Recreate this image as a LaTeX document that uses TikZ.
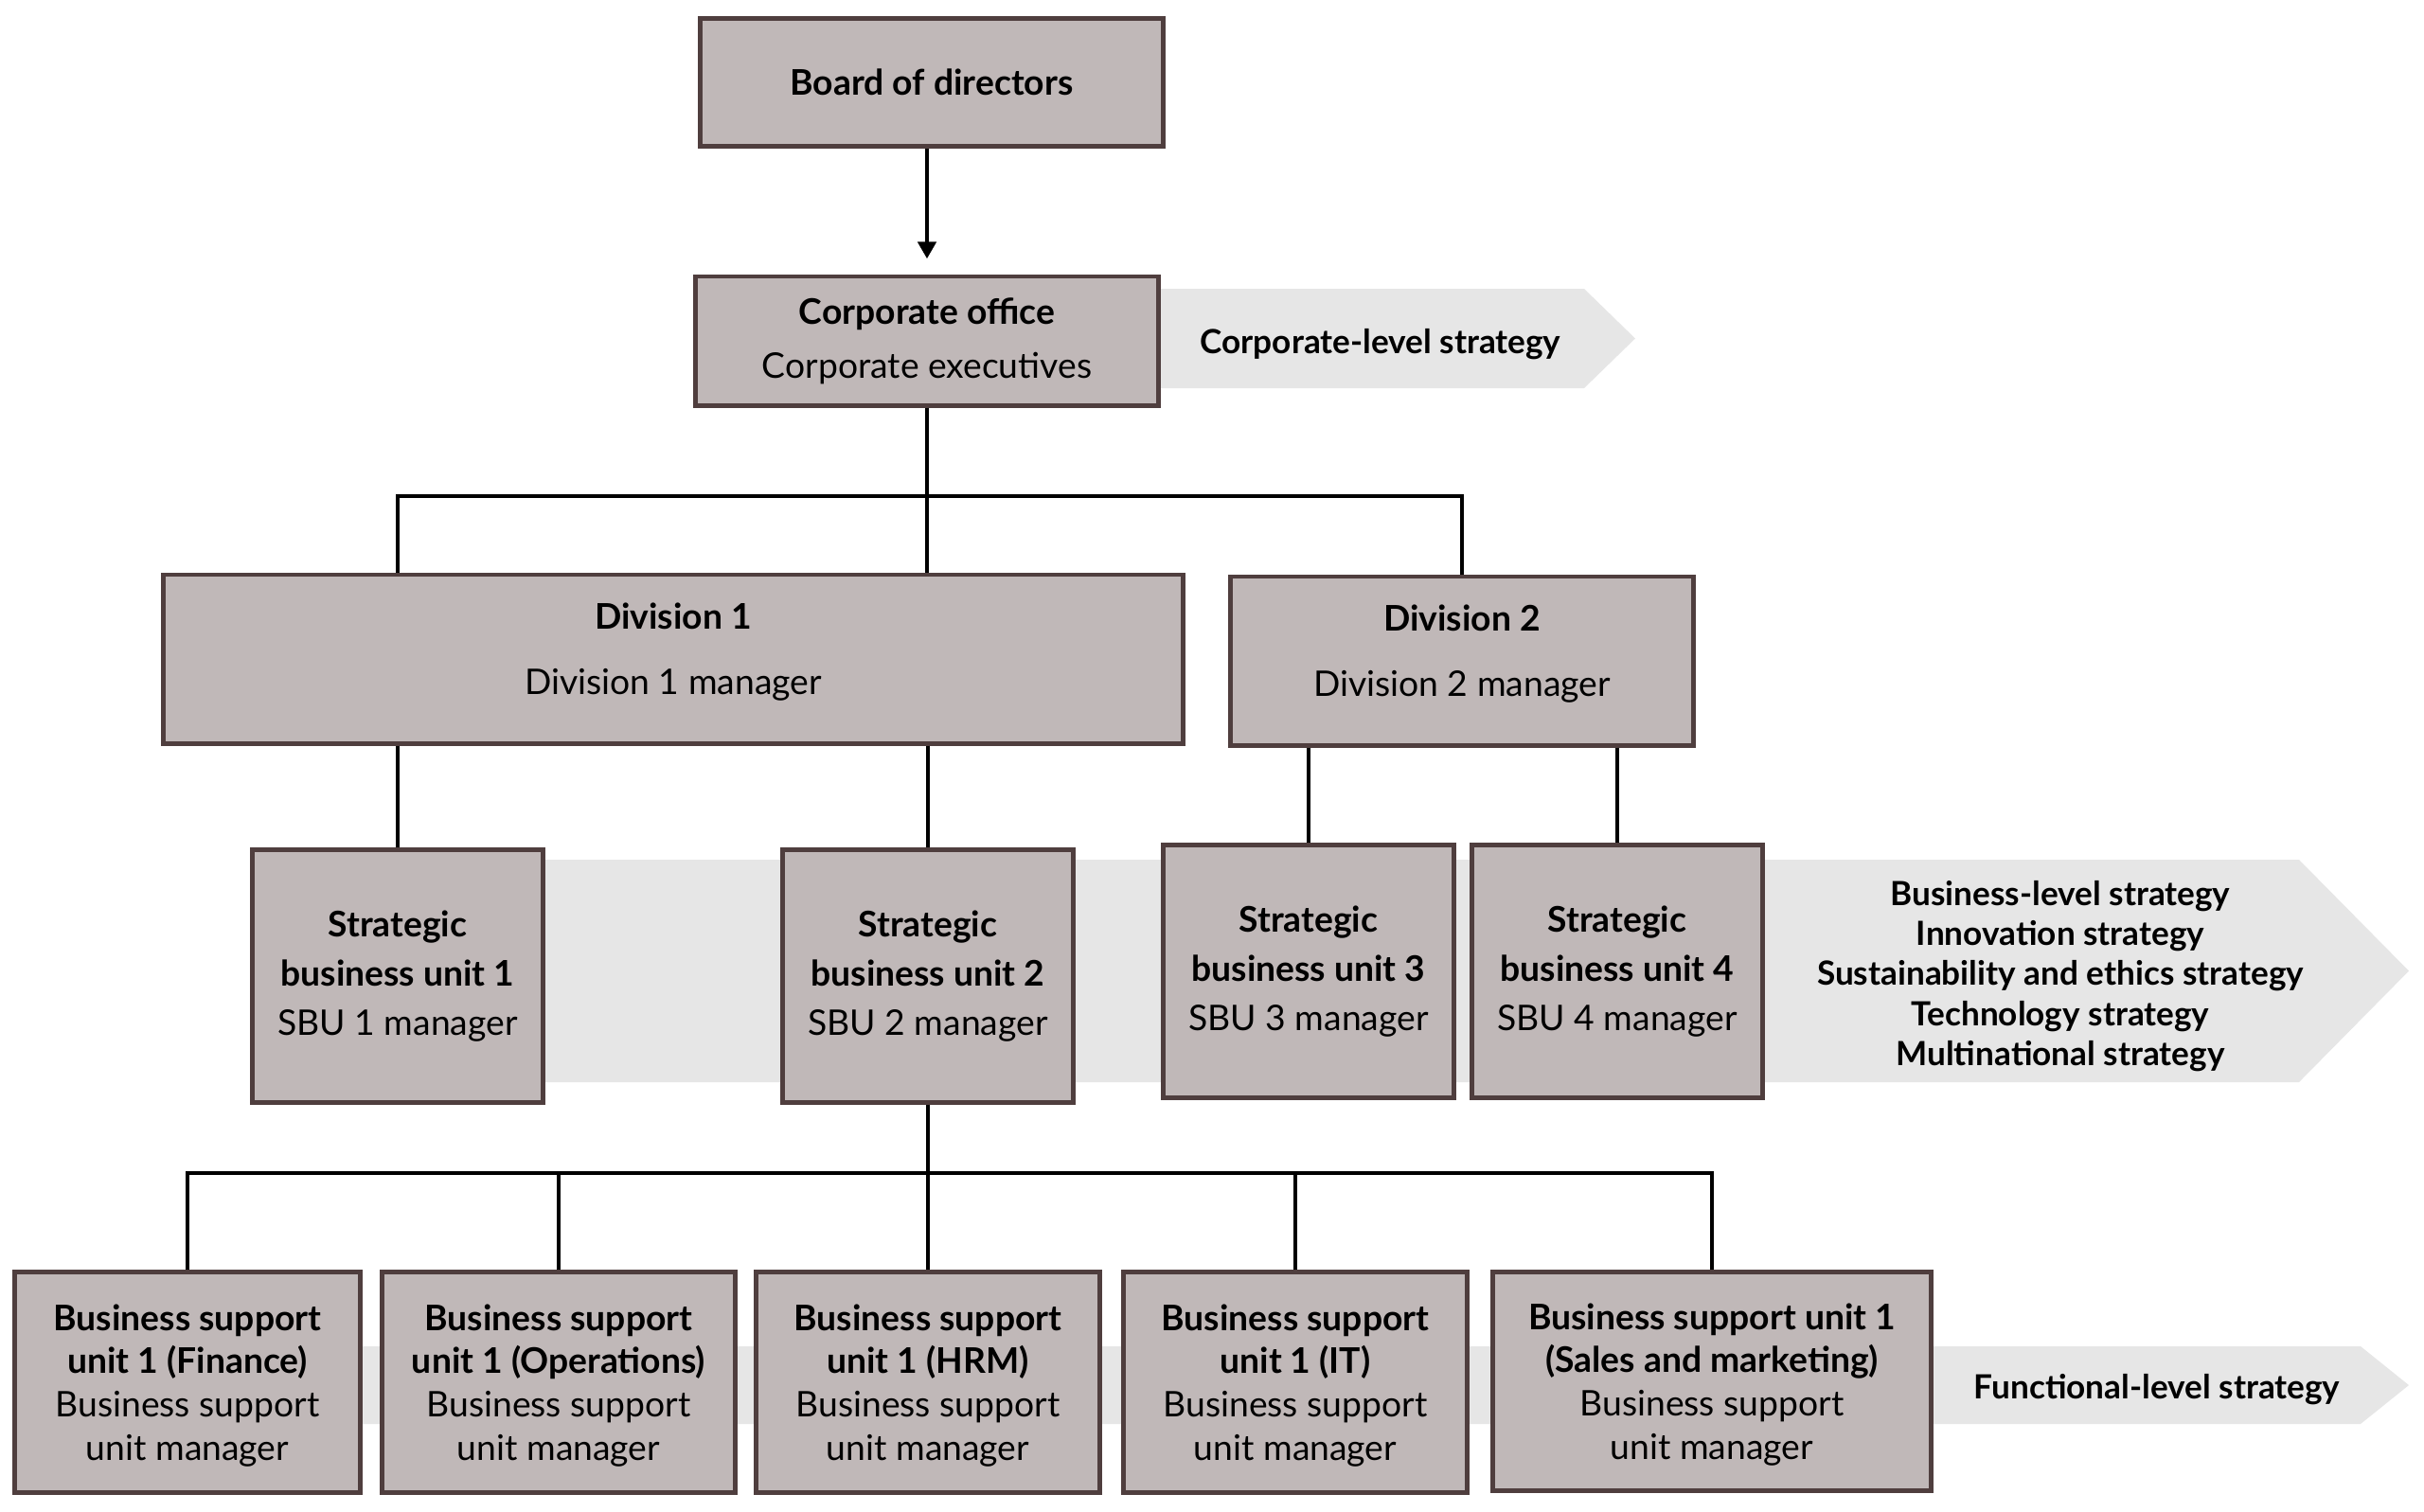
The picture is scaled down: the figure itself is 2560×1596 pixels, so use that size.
\documentclass[tikz,border=0pt]{standalone}
\usepackage{fontspec}
\setmainfont{Lato}
\usetikzlibrary{arrows.meta}
\definecolor{boxfill}{HTML}{C0B8B8}
\definecolor{boxline}{HTML}{4F3E3E}
\definecolor{bandgrey}{HTML}{E6E6E6}
\begin{document}
\begin{tikzpicture}[x=0.01cm,y=-0.01cm,
  box/.style={draw=boxline, fill=boxfill, line width=1.4pt, inner sep=0pt, align=center, font=\fontsize{10.6}{14.8}\selectfont},
  bsubox/.style={box, minimum height=2.32cm, text depth=0pt, font=\fontsize{10.6}{13}\selectfont},
  sbubox/.style={box, minimum width=3.07cm, minimum height=2.66cm},
  divbox/.style={box, minimum height=1.78cm, text depth=6pt},
  wire/.style={line width=1.3pt, black},
  bandtext/.style={align=center, font=\bfseries\fontsize{10}{12}\selectfont},
  band/.style={fill=bandgrey}]
\useasboundingbox (0,0) rectangle (2560,1596);
% bands
\fill[band] (900,305) -- (1673,305) -- (1727,357.5) -- (1673,410) -- (900,410) -- cycle;
\fill[band] (420,908) -- (2428,908) -- (2544,1025.5) -- (2428,1143) -- (420,1143) -- cycle;
\fill[band] (198,1422) -- (2493,1422) -- (2544,1463) -- (2493,1504) -- (198,1504) -- cycle;
\node[bandtext] (corptxt) at (1458,364) {Corporate-level strategy};
\node[bandtext] (bustxt) at (2176,1031) {Business-level strategy\\Innovation strategy\\Sustainability and ethics strategy\\Technology strategy\\Multinational strategy};
\node[bandtext] (functxt) at (2278,1468) {Functional-level strategy};
% boxes
\node[box, minimum width=4.88cm, minimum height=1.35cm] (board) at (984,87) {\textbf{Board of directors}};
\node[box, minimum width=4.88cm, minimum height=1.36cm] (corp) at (979,360) {\textbf{Corporate office}\\[1.4pt]Corporate executives};
\node[divbox, minimum width=10.76cm] (div1) at (711,696) {\textbf{Division 1}\\[4.8pt]Division 1 manager};
\node[divbox, minimum width=4.88cm] (div2) at (1544,698) {\textbf{Division 2}\\[4.8pt]Division 2 manager};
\node[sbubox] (sbu1) at (420,1031) {\textbf{Strategic}\\\textbf{business unit 1}\\SBU 1 manager};
\node[sbubox] (sbu2) at (980,1031) {\textbf{Strategic}\\\textbf{business unit 2}\\SBU 2 manager};
\node[sbubox] (sbu3) at (1382,1026) {\textbf{Strategic}\\\textbf{business unit 3}\\SBU 3 manager};
\node[sbubox] (sbu4) at (1708,1026) {\textbf{Strategic}\\\textbf{business unit 4}\\SBU 4 manager};
\node[bsubox, minimum width=3.64cm] (bsu1) at (198,1460) {\textbf{Business support}\\\textbf{unit 1 (Finance)}\\Business support\\unit manager};
\node[bsubox, minimum width=3.73cm] (bsu2) at (590,1460) {\textbf{Business support}\\\textbf{unit 1 (Operations)}\\Business support\\unit manager};
\node[bsubox, minimum width=3.63cm] (bsu3) at (980,1460) {\textbf{Business support}\\\textbf{unit 1 (HRM)}\\Business support\\unit manager};
\node[bsubox, minimum width=3.62cm] (bsu4) at (1368,1460) {\textbf{Business support}\\\textbf{unit 1 (IT)}\\Business support\\unit manager};
\node[bsubox, minimum width=4.62cm, minimum height=2.30cm] (bsu5) at (1808,1459) {\textbf{Business support unit 1}\\\textbf{(Sales and marketing)}\\Business support\\unit manager};
% connectors
\coordinate (bus1) at (980,524);
\coordinate (bus2) at (980,1239);
\draw[wire, -{Triangle[length=5.1pt, width=5.4pt]}, shorten >=4.6pt] (board.south -| corp.south) -- (corp.north);
\draw[wire] (corp.south) -- (div1.north -| corp.south);
\draw[wire] (div1.north -| sbu1.north) |- (div2.north |- bus1) -- (div2.north);
\draw[wire] (div1.south -| sbu1.north) -- (sbu1.north);
\draw[wire] (div1.south -| sbu2.north) -- (sbu2.north);
\draw[wire] (div2.south -| sbu3.north) -- (sbu3.north);
\draw[wire] (div2.south -| sbu4.north) -- (sbu4.north);
\draw[wire] (sbu2.south) -- (bsu3.north);
\draw[wire] (bsu1.north) |- (bus2) -| (bsu5.north);
\draw[wire] (bsu2.north) -- (bsu2.north |- bus2);
\draw[wire] (bsu4.north) -- (bsu4.north |- bus2);
\end{tikzpicture}
\end{document}
